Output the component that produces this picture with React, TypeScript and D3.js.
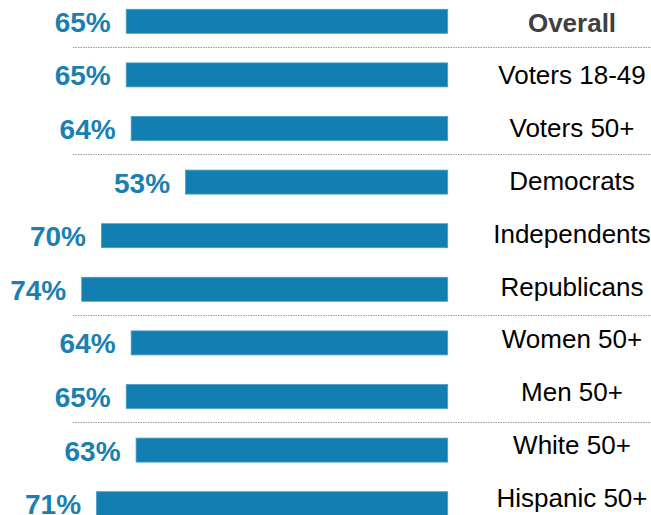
import React from "react";
import * as d3 from "d3";

const categories = [
  "Overall",
  "Voters 18-49",
  "Voters 50+",
  "Democrats",
  "Independents",
  "Republicans",
  "Women 50+",
  "Men 50+",
  "White 50+",
  "Hispanic 50+",
];
const values = [65, 65, 64, 53, 70, 74, 64, 65, 63, 71];
const separatorsAfter = ["Overall", "Voters 50+", "Republicans", "Men 50+"];

const W = 651;
const H = 515;
const BAR_COLOR = "#137fb0";
const VALUE_COLOR = "#1a80b1";

export default function App() {
  const right = 447.7;
  const x = d3.scaleLinear().domain([0, 100]).range([right, right - 494.6]);
  const y = d3
    .scaleBand<string>()
    .domain(categories)
    .range([9.3, 9.3 + 53.6 * 9 + 24])
    .paddingInner(1 - 24 / 53.6)
    .paddingOuter(0);
  const ly = d3.scalePoint<string>().domain(categories).range([31.7, 506.7]);

  return (
    <div style={{ position: "absolute", left: 0, top: 0 }}>
      <svg width={W} height={H} style={{ display: "block" }}>
        <rect x={0} y={0} width={W} height={H} fill="#ffffff" />
        {separatorsAfter.map((c) => {
          const i = categories.indexOf(c);
          const next = categories[i + 1];
          const yy =
            Math.round((y(c)! + y.bandwidth() + y(next)!) / 2) - 0.5;
          return (
            <line
              key={"sep-" + c}
              x1={73}
              x2={W}
              y1={yy}
              y2={yy}
              stroke="#9a9a9a"
              strokeWidth={1}
              strokeDasharray="1.5,1"
            />
          );
        })}
        {categories.map((c, i) => {
          const v = values[i];
          const x0 = x(v);
          const yTop = y(c)!;
          return (
            <g key={c}>
              <rect
                x={x0}
                y={yTop}
                width={x(0) - x0}
                height={y.bandwidth()}
                fill={BAR_COLOR}
                stroke="#4a9cc6"
                strokeWidth={0.8}
              />
              <text
                x={x0 - 15.5}
                y={yTop + y.bandwidth() - 1.6}
                textAnchor="end"
                fontFamily="'Liberation Sans', Arial, sans-serif"
                fontWeight="bold"
                fontSize={28}
                fill={VALUE_COLOR}
              >
                {v}%
              </text>
              <text
                x={572}
                y={ly(c)!}
                textAnchor="middle"
                fontFamily="'Liberation Sans', Arial, sans-serif"
                fontWeight={i === 0 ? "bold" : "normal"}
                fontSize={26}
                fill={i === 0 ? "#404040" : "#000000"}
              >
                {c}
              </text>
            </g>
          );
        })}
      </svg>
    </div>
  );
}
